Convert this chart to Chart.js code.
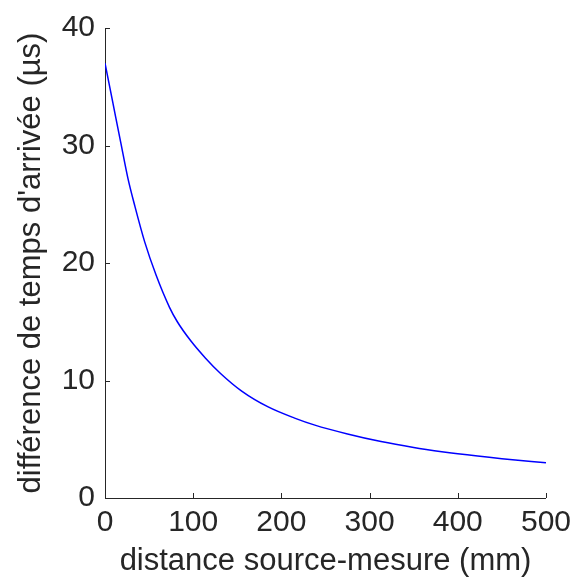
<!DOCTYPE html>
<html>
<head>
<meta charset="utf-8">
<script src="https://cdn.jsdelivr.net/npm/chart.js@4.4.1/dist/chart.umd.min.js"></script>
<style>
html,body{margin:0;padding:0;background:#fff;}
#wrap{width:578px;height:581px;}
</style>
</head>
<body>
<div id="wrap"><canvas id="c" width="578" height="581"></canvas></div>
<script>
// distance source-mesure (mm)
const distances = [0, 9, 18, 26, 34, 45, 58, 73, 82, 97, 114, 131, 155, 185, 215, 238, 275, 313, 350, 384, 400, 450, 500];
// différence de temps d'arrivée (µs)
const delays = [37.0, 33.6, 30.2, 27.2, 24.8, 21.8, 18.95, 16.25, 15.0, 13.4, 11.9, 10.6, 9.1, 7.75, 6.8, 6.2, 5.45, 4.8, 4.3, 3.92, 3.76, 3.35, 3.0];
const xTicks = [0, 100, 200, 300, 400, 500];
const yTicks = [0, 10, 20, 30, 40];
const xTitle = 'distance source-mesure (mm)';
const yTitle = "différence de temps d'arrivée (µs)";

const points = distances.map((d, i) => ({x: d, y: delays[i]}));
const FONT = 'Liberation Sans, Arial, sans-serif';
const TXT = '#262626';

const inwardTicks = {
  id: 'inwardTicks',
  afterDraw(chart) {
    const ctx = chart.ctx, xs = chart.scales.x, ys = chart.scales.y;
    ctx.save();
    ctx.strokeStyle = TXT;
    ctx.lineWidth = 1;
    const L = 5;
    xTicks.forEach(v => {
      const px = Math.round(xs.getPixelForValue(v)) + 0.5;
      ctx.beginPath(); ctx.moveTo(px, ys.bottom); ctx.lineTo(px, ys.bottom - L); ctx.stroke();
    });
    yTicks.forEach(v => {
      const py = Math.round(ys.getPixelForValue(v)) + 0.5;
      ctx.beginPath(); ctx.moveTo(xs.left, py); ctx.lineTo(xs.left + L, py); ctx.stroke();
    });
    ctx.restore();
  }
};

new Chart(document.getElementById('c'), {
  type: 'scatter',
  data: {
    datasets: [{
      data: points,
      showLine: true,
      borderColor: '#0000ff',
      borderWidth: 1.5,
      pointRadius: 0,
      cubicInterpolationMode: 'monotone',
      fill: false
    }]
  },
  options: {
    responsive: false,
    animation: false,
    events: [],
    layout: {padding: {left: 0, right: 28, top: 23, bottom: 0}},
    plugins: {legend: {display: false}, tooltip: {enabled: false}},
    scales: {
      x: {
        type: 'linear', min: 0, max: 500,
        afterBuildTicks: s => { s.ticks = xTicks.map(v => ({value: v})); },
        afterFit: s => { s.height = 83; },
        grid: {display: true, drawOnChartArea: false, drawTicks: false},
        border: {display: true, color: TXT, width: 1},
        ticks: {color: TXT, font: {family: FONT, size: 30}, padding: 7, maxRotation: 0},
        title: {display: true, text: xTitle, color: TXT, font: {family: FONT, size: 31}, padding: {top: 0, bottom: 1}}
      },
      y: {
        type: 'linear', min: 0, max: 40,
        afterBuildTicks: s => { s.ticks = yTicks.map(v => ({value: v})); },
        afterFit: s => { s.width = 105; },
        grid: {display: true, drawOnChartArea: false, drawTicks: false},
        border: {display: true, color: TXT, width: 1},
        ticks: {color: TXT, font: {family: FONT, size: 30}, padding: 10},
        title: {display: true, text: yTitle, color: TXT, font: {family: FONT, size: 31}, padding: {top: 13, bottom: 0}}
      }
    }
  },
  plugins: [inwardTicks]
});
</script>
</body>
</html>
